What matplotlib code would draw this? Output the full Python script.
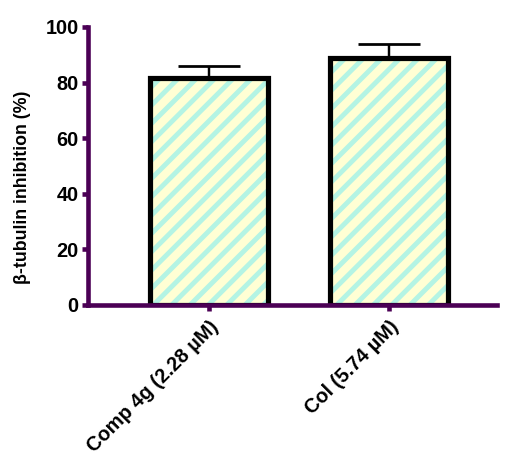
import matplotlib
matplotlib.use("Agg")
import matplotlib.pyplot as plt

categories = ["Comp 4g (2.28 µM)", "Col (5.74 µM)"]
values = [81.6, 88.9]
errors = [4.4, 5.0]
yticks = [0, 20, 40, 60, 80, 100]

DPI = 110
plt.rcParams['font.family'] = ['Liberation Sans', 'DejaVu Sans']
plt.rcParams['font.weight'] = 'bold'
plt.rcParams['hatch.linewidth'] = 3.2

fig = plt.figure(figsize=(507 / DPI, 459 / DPI), dpi=DPI)
ax = fig.add_axes([88 / 507, 1 - 305 / 459, 409 / 507, 278 / 459])

purple = '#4B0055'
x = list(range(len(categories)))
# fill with stripes
ax.bar(x, values, width=0.66, color='#FFFFD4', edgecolor='#B4F4E4',
       linewidth=0, hatch='//', zorder=2)
# outline
ax.bar(x, values, width=0.66, fill=False, edgecolor='black',
       linewidth=3.4, zorder=2.5)
ax.errorbar(x, values, yerr=[[0] * len(errors), errors], fmt='none',
            ecolor='black', elinewidth=1.6, capsize=20, capthick=1.8, zorder=1)

ax.set_xlim(-0.672, 1.6)
ax.set_ylim(0, 100)
ax.set_yticks(yticks)
ax.set_yticklabels([str(t) for t in yticks], fontsize=13, fontweight='bold')
ax.set_xticks(x)
ax.set_xticklabels(categories, rotation=45, ha='right', rotation_mode='anchor',
                   fontsize=13.1, fontweight='bold')
ax.set_ylabel('β-tubulin inhibition (%)', fontsize=11.6, fontweight='bold')
ax.yaxis.set_label_coords(-0.14, 0.425)

for s in ['top', 'right']:
    ax.spines[s].set_visible(False)
for s in ['left', 'bottom']:
    ax.spines[s].set_color(purple)
    ax.spines[s].set_linewidth(3.0)
    ax.spines[s].set_zorder(3)
ax.tick_params(axis='both', colors=purple, width=3.0, length=4, direction='out', pad=2)
ax.tick_params(axis='both', labelcolor='black')
ax.tick_params(axis='x', pad=4)

fig.savefig('out.png', dpi=DPI)
